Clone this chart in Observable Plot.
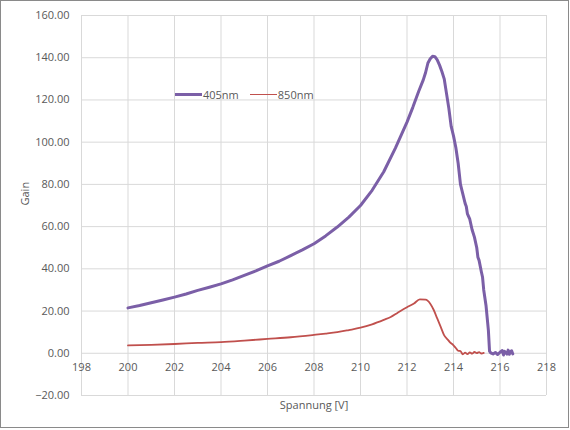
<!DOCTYPE html>
<html><head><meta charset="utf-8">
<script src="https://cdn.jsdelivr.net/npm/d3@7"></script>
<script src="https://cdn.jsdelivr.net/npm/@observablehq/plot@0.6"></script>
<style>
body{margin:0;background:#fff;}
#wrap{position:relative;width:570px;height:430px;font-family:"Open Sans",sans-serif;}
#frame{position:absolute;left:0;top:0;width:567px;height:426px;border:1.5px solid #8a8a8a;pointer-events:none;}
#legend{position:absolute;left:175px;top:87px;font-size:11px;color:#595959;display:flex;align-items:center;}
.sw{display:inline-block;width:27px;height:0;margin-right:1px;}
</style></head><body>
<div id="wrap"><div id="chart"></div><div id="legend"></div><div id="frame"></div></div>
<script>
const series = ["405nm", "850nm"];
const colors = ["#7b5fa7", "#c0504d"];
const widths = [3, 1.8];
const xTicks = [198, 200, 202, 204, 206, 208, 210, 212, 214, 216, 218];
const yTicks = [-20, 0, 20, 40, 60, 80, 100, 120, 140, 160];
const xLabel = "Spannung [V]";
const yLabel = "Gain";

const v405 = [200.0,200.5,201.0,201.5,202.0,202.5,203.0,203.5,204.0,204.5,205.0,205.5,206.0,206.5,207.0,207.5,208.0,208.5,209.0,209.5,210.0,210.5,211.0,211.5,212.0,212.25,212.5,212.7,212.8,212.9,213.0,213.1,213.2,213.3,213.4,213.5,213.6,213.7,213.8,213.9,214.0,214.1,214.2,214.3,214.4,214.5,214.55,214.6,214.7,214.8,214.9,215.0,215.05,215.1,215.2,215.25,215.3,215.4,215.5,215.55,215.6,215.7,215.8,215.9,216.0,216.1,216.15,216.2,216.3,216.35,216.4,216.45,216.5,216.55];
const g405 = [21.5,22.6,23.9,25.2,26.6,28.1,29.8,31.3,32.9,34.8,36.9,39.0,41.4,43.6,46.3,49.0,51.9,55.6,59.8,64.5,70.0,77.2,86.0,97.2,109.5,116.5,124.0,129.5,133.0,137.5,139.5,140.7,140.5,139.0,136.5,133.5,130.0,123.0,116.0,107.5,103.0,97.5,90.0,80.0,75.5,71.0,69.5,66.0,63.5,58.5,55.0,50.0,45.5,44.0,38.5,36.0,30.0,22.5,11.0,1.0,0.2,-0.3,0.4,-0.6,0.5,1.3,-0.8,0.9,-0.4,1.5,-0.5,0.8,1.2,-0.3];

const v850 = [200.0,201.0,202.0,203.0,204.0,205.0,206.0,207.0,208.0,208.5,209.0,209.5,210.0,210.5,211.0,211.3,211.6,212.0,212.3,212.55,212.8,213.0,213.15,213.3,213.45,213.6,213.75,213.85,214.0,214.1,214.2,214.3,214.4,214.5,214.6,214.7,214.8,214.9,215.0,215.1,215.2,215.3];
const g850 = [3.7,4.0,4.4,4.9,5.3,6.0,6.8,7.6,8.7,9.3,10.0,11.0,12.1,13.7,15.8,17.2,19.2,21.8,23.6,25.5,25.4,23.5,20.5,16.5,12.5,8.5,6.5,5.2,3.8,2.5,1.2,1.0,-0.5,0.3,-0.4,0.4,-0.2,0.6,0.1,0.5,-0.1,0.2];

const d405 = v405.map((v,i)=>({v, g:g405[i]}));
const d850 = v850.map((v,i)=>({v, g:g850[i]}));

const txt = "#595959";
const grid = "#d9d9d9";

const chart = Plot.plot({
  width: 570, height: 430,
  marginLeft: 81, marginRight: 24, marginTop: 15, marginBottom: 35,
  style: {fontFamily: '"Open Sans", sans-serif', fontSize: "11px", background: "transparent", color: txt},
  x: {domain: [198, 218], axis: null},
  y: {domain: [-20, 160], axis: null},
  marks: [
    Plot.gridX(xTicks, {stroke: grid, strokeOpacity: 1, strokeWidth: 1}),
    Plot.gridY(yTicks, {stroke: grid, strokeOpacity: 1, strokeWidth: 1}),
    Plot.axisY(yTicks, {tickSize: 0, tickPadding: 12, tickFormat: d3.format(".2f"), label: null, fill: txt, fontSize: 11}),
    Plot.text(xTicks, {x: d => d, y: 0, dy: 14, text: d => String(d), fill: txt, fontSize: 11}),
    Plot.text([xLabel], {frameAnchor: "bottom", dy: 13, text: d => d, fill: txt, fontSize: 11}),
    Plot.text([yLabel], {frameAnchor: "left", dx: -56, rotate: -90, text: d => d, fill: txt, fontSize: 11}),
    Plot.line(d850, {x: "v", y: "g", stroke: colors[1], strokeWidth: widths[1], curve: "monotone-x"}),
    Plot.line(d405, {x: "v", y: "g", stroke: colors[0], strokeWidth: widths[0]})
  ]
});
document.getElementById("chart").appendChild(chart);

const leg = document.getElementById("legend");
series.forEach((s, i) => {
  const item = document.createElement("span");
  item.style.display = "inline-flex";
  item.style.alignItems = "center";
  item.style.marginRight = i === 0 ? "11px" : "0";
  const sw = document.createElement("span");
  sw.className = "sw";
  sw.style.borderTop = widths[i] + "px solid " + colors[i];
  item.appendChild(sw);
  item.appendChild(document.createTextNode(s));
  leg.appendChild(item);
});
</script>
</body></html>
